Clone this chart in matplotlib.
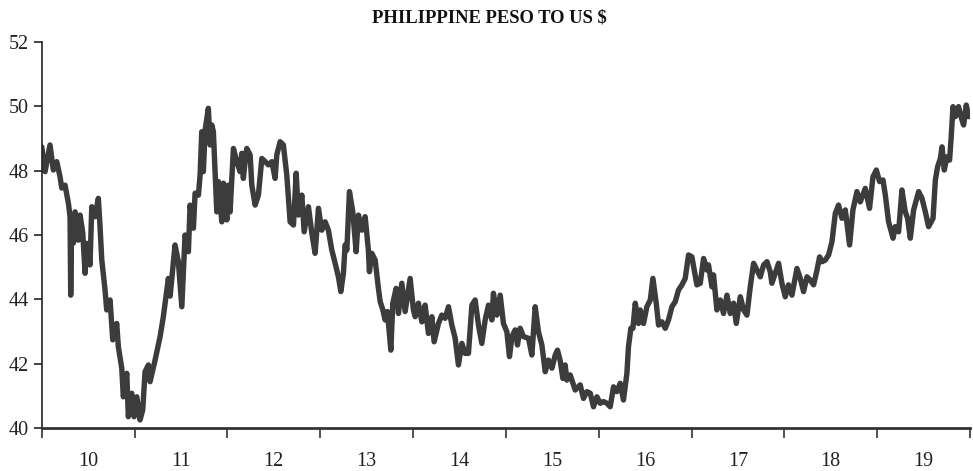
import matplotlib
matplotlib.use("Agg")
import matplotlib.pyplot as plt
import numpy as np

# time in years (10 = 2010), peso per US$
t = [10.000, 10.036, 10.089, 10.125, 10.162, 10.197, 10.216, 10.251, 10.287, 10.305,
     10.312, 10.323, 10.341, 10.359, 10.394, 10.413, 10.442, 10.467, 10.485, 10.520,
     10.539, 10.574, 10.610, 10.628, 10.647, 10.682, 10.700, 10.736, 10.765, 10.808,
     10.825, 10.862, 10.879, 10.916, 10.933, 10.970, 10.995, 11.024, 11.059, 11.088,
     11.113, 11.149, 11.167, 11.221, 11.275, 11.310, 11.364, 11.383, 11.436, 11.472,
     11.509, 11.544, 11.580, 11.598, 11.634, 11.652, 11.688, 11.706, 11.724, 11.741,
     11.760, 11.795, 11.814, 11.832, 11.849, 11.886, 11.903, 11.940, 11.957, 11.994,
     12.011, 12.029, 12.065, 12.101, 12.137, 12.155, 12.172, 12.191, 12.209, 12.245,
     12.263, 12.299, 12.334, 12.371, 12.406, 12.442, 12.479, 12.514, 12.532, 12.568,
     12.603, 12.640, 12.676, 12.712, 12.741, 12.765, 12.802, 12.827, 12.873, 12.910,
     12.945, 12.981, 13.017, 13.053, 13.088, 13.125, 13.161, 13.196, 13.222, 13.250,
     13.268, 13.287, 13.315, 13.351, 13.387, 13.412, 13.448, 13.484, 13.519, 13.530,
     13.556, 13.592, 13.627, 13.646, 13.675, 13.699, 13.724, 13.761, 13.782, 13.818,
     13.843, 13.879, 13.915, 13.969, 14.004, 14.023, 14.058, 14.095, 14.130, 14.166,
     14.203, 14.227, 14.274, 14.310, 14.346, 14.382, 14.418, 14.454, 14.489, 14.526,
     14.561, 14.597, 14.634, 14.669, 14.705, 14.741, 14.777, 14.813, 14.849, 14.866,
     14.903, 14.939, 14.974, 15.011, 15.039, 15.065, 15.100, 15.125, 15.154, 15.190,
     15.244, 15.280, 15.316, 15.351, 15.388, 15.424, 15.459, 15.496, 15.532, 15.556,
     15.585, 15.614, 15.639, 15.657, 15.693, 15.747, 15.801, 15.836, 15.873, 15.909,
     15.944, 15.981, 16.016, 16.052, 16.089, 16.124, 16.160, 16.196, 16.232, 16.267,
     16.304, 16.321, 16.347, 16.369, 16.394, 16.429, 16.447, 16.483, 16.519, 16.556,
     16.584, 16.620, 16.645, 16.681, 16.717, 16.752, 16.789, 16.825, 16.860, 16.897,
     16.932, 16.968, 17.004, 17.058, 17.094, 17.130, 17.166, 17.183, 17.220, 17.237,
     17.274, 17.310, 17.345, 17.382, 17.418, 17.453, 17.482, 17.526, 17.561, 17.597,
     17.633, 17.669, 17.705, 17.741, 17.777, 17.813, 17.848, 17.866, 17.902, 17.938,
     17.974, 18.010, 18.045, 18.082, 18.136, 18.172, 18.207, 18.244, 18.279, 18.315,
     18.352, 18.380, 18.406, 18.441, 18.477, 18.513, 18.549, 18.584, 18.621, 18.657,
     18.703, 18.739, 18.782, 18.818, 18.872, 18.918, 18.955, 18.991, 19.026, 19.063,
     19.088, 19.123, 19.171, 19.195, 19.231, 19.267, 19.303, 19.328, 19.357, 19.393,
     19.447, 19.483, 19.519, 19.554, 19.602, 19.627, 19.651, 19.681, 19.699, 19.723,
     19.752, 19.780, 19.799, 19.817, 19.842, 19.877, 19.903, 19.931, 19.960, 19.985,
     19.998]

php = [48.74, 47.97, 48.80, 48.02, 48.28, 47.81, 47.46, 47.55, 46.99, 46.57,
       44.13, 46.57, 45.75, 46.72, 45.84, 46.62, 46.06, 44.81, 45.74, 45.07,
       46.88, 46.57, 47.14, 46.26, 45.22, 44.29, 43.67, 43.98, 42.74, 43.25,
       42.53, 41.86, 40.97, 41.70, 40.35, 41.08, 40.35, 40.97, 40.25, 40.56,
       41.75, 41.96, 41.44, 42.11, 42.84, 43.46, 44.65, 44.10, 45.69, 45.17,
       43.77, 46.00, 45.48, 46.93, 46.21, 47.30, 47.24, 47.86, 49.21, 47.97,
       49.26, 49.94, 48.80, 49.42, 49.21, 46.72, 47.66, 46.41, 47.61, 46.47,
       47.55, 46.72, 48.69, 48.28, 47.97, 48.54, 47.76, 48.28, 48.69, 48.49,
       47.55, 46.93, 47.24, 48.38, 48.28, 48.18, 48.28, 47.76, 48.49, 48.90,
       48.80, 47.86, 46.41, 46.31, 47.92, 46.62, 47.24, 46.10, 46.88, 46.05,
       45.43, 46.83, 46.15, 46.41, 46.15, 45.53, 45.12, 44.70, 44.24, 44.81,
       45.69, 45.53, 47.35, 46.72, 45.48, 46.62, 46.15, 46.57, 45.53, 44.86,
       45.43, 45.22, 44.34, 43.93, 43.67, 43.36, 43.62, 42.42, 43.88, 44.34,
       43.56, 44.50, 43.62, 44.65, 43.67, 43.46, 43.88, 43.30, 43.82, 42.94,
       43.46, 42.68, 43.25, 43.51, 43.41, 43.77, 43.20, 42.79, 41.96, 42.63,
       42.32, 42.32, 43.82, 43.98, 43.20, 42.63, 43.36, 43.82, 43.36, 44.19,
       43.51, 44.13, 43.25, 42.99, 42.22, 42.84, 43.05, 42.58, 43.10, 42.84,
       42.79, 42.27, 43.77, 42.99, 42.58, 41.75, 42.11, 41.86, 42.27, 42.42,
       42.10, 41.54, 41.96, 41.49, 41.65, 41.18, 41.34, 40.92, 41.13, 41.08,
       40.66, 40.97, 40.77, 40.82, 40.77, 40.66, 41.28, 41.13, 41.39, 40.87,
       41.70, 42.53, 43.10, 43.10, 43.88, 43.25, 43.67, 43.25, 43.77, 43.98,
       44.65, 43.88, 43.20, 43.30, 43.10, 43.36, 43.77, 43.93, 44.29, 44.45,
       44.65, 45.38, 45.32, 44.45, 44.50, 45.27, 44.91, 45.07, 44.39, 44.76,
       43.67, 43.98, 43.56, 44.13, 43.56, 43.88, 43.25, 44.08, 43.67, 43.51,
       44.39, 45.12, 44.91, 44.70, 45.07, 45.17, 44.86, 44.50, 44.81, 45.12,
       44.50, 44.08, 44.45, 44.13, 44.96, 44.65, 44.24, 44.70, 44.60, 44.45,
       44.91, 45.32, 45.17, 45.22, 45.38, 45.79, 46.67, 46.93, 46.52, 46.78,
       45.69, 46.78, 47.35, 47.03, 47.45, 46.83, 47.81, 48.02, 47.66, 47.71,
       47.24, 46.41, 45.90, 46.26, 46.10, 47.40, 46.72, 46.52, 45.90, 46.78,
       47.35, 47.14, 46.72, 46.26, 46.52, 47.71, 48.12, 48.38, 48.74, 48.02,
       48.43, 48.33, 49.11, 49.99, 49.68, 49.99, 49.68, 49.42, 50.04, 49.68,
       49.78]

year_labels = ["10", "11", "12", "13", "14", "15", "16", "17", "18", "19"]
yticks = [40, 42, 44, 46, 48, 50, 52]
title = "PHILIPPINE PESO TO US $"

plt.rcParams['font.family'] = ['Liberation Serif', 'DejaVu Serif']

fig = plt.figure(figsize=(9.73, 4.71), dpi=100)
ax = fig.add_axes([0.0429, 0.0913, 0.954, 0.8195])

ax.plot(t, php, color='#3c3c3c', linewidth=3.9, solid_joinstyle='round',
        solid_capstyle='round')

ax.set_xlim(10, 20)
ax.set_ylim(40, 52)
ax.set_yticks(yticks)
ax.set_yticklabels([str(v) for v in yticks])

ax.set_xticks(np.arange(10, 21, 1))
ax.set_xticklabels([])
ax.set_xticks(np.arange(10.5, 20, 1), minor=True)
ax.set_xticklabels(year_labels, minor=True)

for s in ['top', 'right']:
    ax.spines[s].set_visible(False)
ax.spines['left'].set_color('#222222')
ax.spines['left'].set_linewidth(1.2)
ax.spines['bottom'].set_color('#333333')
ax.spines['bottom'].set_linewidth(2.0)

ax.tick_params(axis='y', direction='out', length=6, width=1.2, color='#222222',
               labelsize=14.5, pad=3, labelcolor='#222222')
ax.tick_params(axis='x', which='major', direction='out', length=7, width=1.2,
               color='#333333')
ax.tick_params(axis='x', which='minor', length=0, labelsize=14.5, pad=17,
               labelcolor='#222222')

fig.text(0.503, 0.962, title, ha='center', va='center', fontsize=13.4,
         fontweight='bold', color='#111111')

fig.savefig('out.png', dpi=100)
